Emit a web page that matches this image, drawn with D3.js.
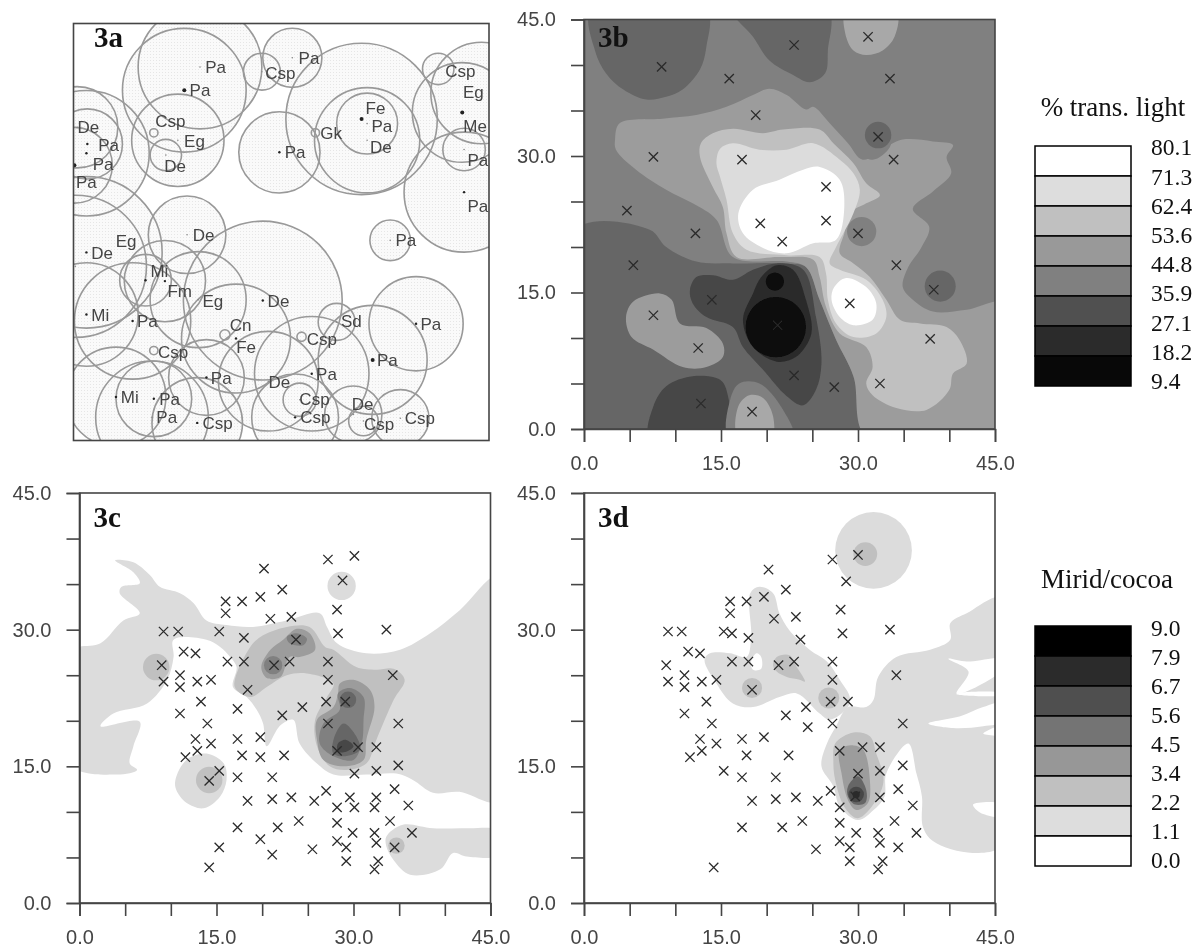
<!DOCTYPE html>
<html><head><meta charset="utf-8">
<script src="https://cdn.jsdelivr.net/npm/d3@7"></script>
<style>html,body{margin:0;padding:0;background:#fff}svg{display:block}</style>
</head><body><svg id="c" width="1202" height="949"></svg>
<script>
// ---------- data (plot units 0-45) ----------
const axisTicks=[0,5,10,15,20,25,30,35,40,45];
const labelledTicks=[0,15,30,45];
const lightLabels=["80.1","71.3","62.4","53.6","44.8","35.9","27.1","18.2","9.4"];
const miridLabels=["9.0","7.9","6.7","5.6","4.5","3.4","2.2","1.1","0.0"];
const lightRamp=["#ffffff","#dddddd","#c0c0c0","#999999","#808080","#505050","#2b2b2b","#080808"];
const miridRamp=["#000000","#2b2b2b","#4f4f4f","#747474","#979797","#c0c0c0","#dddddd","#ffffff"];
// name, x, y, crown radius, label x, label y, dot radius class
const trees=[
["Pa",13.7,40.3,6.7,15.4,40.3,0],["Pa",12.0,37.8,6.7,13.7,37.8,2],["Csp",8.7,33.2,.45,10.5,34.5,3],["Eg",11.3,32.4,5.0,13.1,32.3,0],
["De",10.0,30.8,1.7,11.0,29.6,0],["Csp",20.4,39.8,2.0,22.4,39.7,0],["Pa",23.7,41.3,3.2,25.5,41.3,0],["Fe",31.2,34.7,8.2,32.7,35.9,2],
["Gk",26.2,33.2,.45,27.9,33.2,3],["Pa",31.8,34.2,3.3,33.4,34.0,0],["De",31.8,32.4,5.7,33.3,31.7,0],["Pa",22.3,31.1,4.4,24.0,31.2,1],
["Csp",39.5,40.1,1.7,41.9,39.9,0],["Eg",44.2,37.5,5.5,43.3,37.6,0],["Me",42.1,35.4,5.4,43.5,33.9,2],["Pa",42.3,31.4,2.3,43.8,30.3,0],
["Pa",42.3,26.8,6.5,43.8,25.3,1],["Pa",34.3,21.6,2.2,36.0,21.6,0],["De",.4,33.8,4.4,1.6,33.8,0],["Pa",1.5,32.0,3.8,3.8,31.9,1],
["Pa",1.4,31.0,6.8,3.2,29.9,1],["Pa",.1,29.7,4.1,1.4,27.95,2],["De",1.4,20.3,8.2,3.1,20.3,1],["Eg",.2,18.8,7.7,5.7,21.5,0],
["Mi",1.4,13.6,5.6,2.9,13.6,1],["De",12.3,22.2,4.2,14.1,22.2,0],["Mi",7.8,17.3,2.8,9.3,18.3,1],["Fm",9.9,17.2,4.4,11.5,16.1,1],
["Eg",13.5,15.2,5.2,15.1,15.1,0],["De",20.5,15.1,8.6,22.2,15.1,1],["Pa",6.4,12.9,6.3,8.0,12.9,1],["Csp",8.7,9.7,.45,10.8,9.6,3],
["Mi",4.6,4.7,5.4,6.1,4.7,1],["Pa",8.7,4.5,4.1,10.4,4.5,1],["Pa",8.5,2.5,6.1,10.1,2.5,0],["Csp",13.4,1.9,4.9,15.6,1.9,1],
["Pa",14.4,6.8,4.1,16.0,6.8,1],["Cn",16.4,11.4,.55,18.1,12.5,3],["Fe",17.6,11.0,5.9,18.7,10.1,1],["Csp",24.7,11.2,.5,26.9,11.0,3],
["Pa",25.8,7.2,6.2,27.4,7.2,1],["De",21.1,6.4,5.4,22.3,6.3,0],["Csp",24.5,4.4,1.8,26.1,4.5,0],["Csp",24.0,2.5,4.7,26.2,2.5,1],
["Pa",32.4,8.7,5.9,34.0,8.7,2],["Pa",37.1,12.6,5.1,38.7,12.6,1],["Sd",28.5,12.8,2.0,30.1,12.9,0],["De",30.3,2.8,3.1,31.3,3.9,0],
["Csp",31.4,2.1,1.6,33.1,1.8,0],["Csp",35.4,2.4,3.1,37.5,2.4,0]];

const samplesB=[[8.5,39.8],[15.9,38.5],[23.0,42.2],[31.1,43.1],[33.5,38.5],[18.8,34.5],[32.2,32.1],[7.6,29.9],[17.3,29.6],[33.9,29.6],[26.5,26.6],[4.7,24.0],[19.3,22.6],[26.5,22.9],[21.7,20.6],[12.2,21.5],[30.0,21.5],[5.4,18.0],[34.2,18.0],[38.3,15.3],[14.0,14.2],[29.1,13.8],[7.6,12.5],[12.5,8.9],[37.9,9.9],[23.0,5.9],[27.4,4.6],[32.4,5.0],[12.8,2.8],[18.4,1.9],[21.2,11.4]];
const samplesC=[[30.1,38.1],[27.2,37.7],[20.2,36.7],[28.8,35.4],[22.2,34.4],[19.8,33.6],[16.0,33.1],[17.8,33.1],[16.0,31.8],[28.2,32.2],[20.9,31.2],[23.2,31.4],[9.2,29.8],[10.8,29.8],[15.3,29.8],[33.6,30.0],[28.3,29.6],[18.0,29.1],[23.7,28.9],[11.4,27.6],[12.7,27.4],[16.2,26.5],[18.0,26.5],[23.0,26.5],[27.2,26.5],[21.3,26.1],[9.0,26.1],[11.0,25.0],[34.3,25.0],[9.2,24.3],[12.9,24.3],[14.4,24.5],[27.2,24.5],[11.0,23.7],[18.4,23.4],[13.3,22.1],[27.0,22.1],[29.1,22.1],[17.3,21.3],[24.4,21.5],[11.0,20.8],[22.2,20.6],[14.0,19.7],[27.2,19.7],[34.9,19.7],[12.7,18.0],[17.3,18.0],[19.8,18.2],[14.4,17.5],[30.5,17.1],[32.5,17.1],[12.9,16.7],[28.2,16.7],[11.6,16.0],[17.8,16.2],[19.8,16.0],[22.4,16.2],[34.9,15.1],[15.3,14.5],[30.1,14.2],[32.5,14.5],[17.3,13.8],[21.1,13.8],[14.2,13.4],[34.5,12.5],[27.0,12.3],[23.2,11.6],[29.6,11.6],[32.5,11.6],[18.4,11.2],[21.1,11.4],[25.7,11.2],[28.2,10.5],[30.1,10.5],[32.3,10.5],[36.0,10.7],[24.0,9.0],[28.2,8.8],[34.0,9.0],[17.3,8.3],[21.7,8.3],[29.9,7.7],[32.3,7.7],[36.4,7.7],[19.8,7.0],[28.2,6.8],[32.5,6.6],[15.3,6.1],[29.2,6.1],[34.5,6.1],[25.5,5.9],[21.1,5.3],[29.2,4.6],[32.7,4.6],[14.2,3.9],[32.3,3.7]];
const samplesD=[[20.2,36.6],[30.0,38.2],[27.2,37.7],[28.7,35.3],[22.1,34.4],[19.7,33.6],[16.0,33.1],[17.8,33.1],[16.0,31.8],[28.1,32.2],[20.8,31.2],[23.2,31.4],[9.2,29.8],[10.7,29.8],[15.3,29.8],[16.2,29.6],[33.5,30.0],[28.3,29.6],[18.0,29.1],[23.7,28.9],[11.4,27.6],[12.7,27.4],[16.2,26.5],[18.0,26.5],[23.0,26.5],[27.2,26.5],[21.3,26.1],[9.0,26.1],[11.0,25.0],[34.2,25.0],[9.2,24.3],[12.9,24.3],[14.5,24.5],[27.2,24.5],[11.0,23.7],[18.4,23.4],[13.4,22.1],[27.0,22.1],[28.9,22.1],[24.3,21.5],[11.0,20.8],[22.1,20.6],[14.0,19.7],[27.2,19.7],[34.9,19.7],[24.5,19.3],[12.7,18.0],[17.3,18.0],[19.7,18.2],[14.5,17.5],[30.5,17.1],[32.4,17.1],[12.9,16.7],[28.0,16.7],[11.6,16.0],[17.8,16.2],[22.4,16.2],[34.9,15.1],[15.3,14.5],[30.0,14.2],[32.4,14.5],[17.3,13.8],[21.0,13.8],[34.4,12.5],[27.0,12.3],[23.2,11.6],[29.7,11.7],[32.4,11.6],[18.4,11.2],[21.0,11.4],[25.6,11.2],[28.0,10.5],[36.0,10.7],[23.9,9.0],[28.0,8.8],[34.0,9.0],[17.3,8.3],[21.7,8.3],[29.8,7.7],[32.2,7.7],[36.4,7.7],[28.0,6.8],[32.4,6.6],[29.1,6.1],[34.4,6.1],[25.4,5.9],[29.1,4.6],[32.7,4.6],[14.2,3.9],[32.2,3.7]];

// contour outlines in plot units; drawn back to front
const bWhole=[[-2,-2],[47,-2],[47,47],[-2,47]];
const bLowerLeft=[[-1,21.9],[7.2,21.9],[9.0,20.0],[12.3,18.4],[16.3,18.2],[22.2,18.2],[24.3,17.8],[25.8,14.2],[27.6,9.8],[29.5,5.8],[30.2,2.1],[30.9,-1],[-1,-1]];
const bTopLeft=[[.8,46],[13.4,46],[13.4,42.0],[12.7,39.5],[10.8,37.3],[9.0,36.5],[6.8,36.2],[4.3,37.3],[2.4,39.1],[1.2,41.6]];
const bTopMid=[[16.3,46],[26.7,46],[26.7,41.6],[26.4,39.1],[24.7,38.1],[22.9,38.9],[20.3,40.5],[18.5,43.1]];
const bTopRight=[[28.7,46],[34.2,46],[34.0,43.1],[32.7,41.6],[30.9,41.1],[29.5,41.6],[28.6,43.5]];
const bMid=[[3.4,31.8],[3.9,33.6],[8.6,34.1],[12.3,34.5],[15.6,35.4],[18.5,36.7],[20.3,37.4],[22.2,36.7],[24.3,35.1],[25.1,35.4],[26.9,33.6],[28.9,31.4],[30.5,29.6],[33.1,31.0],[34.9,31.8],[38.2,31.6],[40.4,31.2],[39.7,29.9],[40.2,28.1],[38.2,26.1],[36.0,24.2],[37.8,22.2],[36.9,19.9],[35.5,17.8],[34.9,15.6],[36.0,14.2],[38.2,12.9],[41.9,13.1],[46,13.8],[46,-1],[31,-1],[29.5,5.8],[27.6,9.8],[25.8,14.2],[24.3,17.8],[22.2,18.4],[16.3,18.9],[14.5,23.0],[11.9,24.8],[9.0,26.3],[5.7,28.5],[3.5,30.7]];
const bPale=[[12.7,29.9],[12.8,31.4],[14.1,32.5],[16.3,33.0],[19.6,32.5],[21.8,32.9],[25.8,32.9],[27.3,31.4],[29.5,29.2],[30.9,27.0],[32.4,25.7],[30.9,24.8],[29.1,23.7],[28.5,21.5],[28.0,19.3],[29.5,18.2],[31.3,16.7],[33.1,14.2],[34.6,12.0],[36.8,11.6],[39.7,11.2],[41.1,9.8],[41.9,7.2],[40.4,6.1],[40.0,4.3],[37.5,2.1],[34.2,2.3],[31.6,3.7],[30.9,5.0],[31.6,6.8],[30.9,9.0],[28.0,10.5],[26.5,13.4],[25.8,16.7],[25.1,18.6],[21.4,18.9],[16.7,18.9],[15.6,21.5],[15.2,24.4],[14.1,26.6]];
const bPaler=[[14.5,29.2],[14.9,30.8],[16.3,31.4],[19.2,30.7],[22.2,30.7],[25.1,31.4],[28.0,29.6],[29.5,28.1],[30.2,26.3],[29.5,23.7],[28.4,21.5],[27.6,20.0],[26.9,18.2],[28.0,17.5],[30.9,16.4],[32.7,14.2],[33.1,12.3],[32.0,10.5],[29.5,10.1],[27.6,11.6],[26.7,14.2],[26.5,17.1],[25.8,18.9],[22.2,19.1],[17.8,19.7],[16.3,21.5],[15.6,25.2],[14.9,27.7]];
const bWhiteA=[[16.9,23.7],[18.5,26.3],[21.4,27.4],[24.0,28.5],[25.8,28.8],[28.0,27.4],[28.5,24.4],[27.6,20.8],[25.1,20.4],[22.2,19.3],[19.6,19.9],[17.4,21.5]];
const bWhiteB=[[27.4,15.6],[28.7,16.6],[30.9,15.6],[32.0,13.8],[31.6,12.0],[29.5,11.4],[28.0,12.3],[27.1,14.2]];
const bDarkBand=[[11.6,15.3],[12.3,16.7],[14.1,16.9],[16.3,16.4],[18.5,17.5],[21.1,18.2],[24.0,17.5],[25.4,12.3],[26.0,7.2],[25.4,4.3],[24.0,2.6],[22.2,3.6],[19.6,6.5],[17.4,9.0],[16.3,11.2],[13.4,12.3],[11.9,13.8]];
const bDarker=[[19.4,16.7],[21.1,18.0],[22.9,17.5],[24.3,14.2],[24.9,10.5],[23.2,7.9],[21.1,7.4],[18.5,9.0],[17.4,12.0],[18.5,14.9]];
const bBottomLeft=[[7.2,-1],[7.6,2.5],[9.0,4.7],[11.9,5.8],[14.9,5.4],[15.7,3.9],[15.6,-1]];
const bBottomMid=[[15.9,-1],[16.0,3.2],[17.0,5.0],[19.2,5.0],[21.8,2.1],[22.9,-1]];
const bBottomMidInner=[[16.9,-1],[16.9,2.5],[18.1,3.7],[19.6,3.4],[20.7,1.4],[20.5,-1]];
const bLeftBlob=[[4.6,12.3],[5.4,14.0],[8.3,14.9],[9.6,14.2],[10.5,11.6],[13.4,11.1],[15.2,9.4],[15.2,7.9],[13.4,6.8],[10.8,6.8],[7.6,8.7],[5.2,10.1]];
const bTear=[[30.7,32.7],[32.2,34.2],[33.6,32.9],[33.5,31.0],[31.6,29.6],[29.5,31.0]];

const cMain=[[-1,27.6],[2.3,28.5],[4.8,31.0],[6.6,31.8],[4.4,34.0],[4.6,34.7],[6.6,35.1],[5.9,36.3],[3.9,37.6],[5.9,37.4],[7.7,36.0],[8.8,34.7],[11.0,34.0],[12.5,32.9],[13.9,31.0],[16.1,30.5],[19.0,30.3],[22.7,31.0],[26.3,31.8],[27.1,30.3],[28.2,28.5],[31.4,27.4],[35.1,27.8],[38.4,29.6],[41.6,32.1],[46,36],[46,11.2],[41.6,12.2],[38.7,12.1],[36.5,13.5],[34.7,14.2],[31.4,14.1],[27.8,14.1],[26.0,15.3],[24.1,17.5],[23.4,20.1],[22.0,19.5],[20.5,17.2],[20.1,19.7],[19.4,21.2],[18.3,22.6],[16.8,23.7],[17.2,25.9],[16.5,27.0],[15.4,28.1],[13.9,28.9],[10.3,28.9],[10.3,27.0],[9.6,24.5],[7.4,21.9],[3.7,20.8],[2.3,19.4],[6.6,19.9],[5.9,17.2],[5.5,15.3],[6.3,14.6],[4.1,14.1],[-1,15.2]];
const cIsland=[[10.5,13.5],[11.7,15.7],[13.9,16.4],[15.8,15.3],[16.1,13.5],[15.4,11.7],[13.6,10.4],[11.7,11.0],[10.6,12.4]];
const cSouth=[[33.6,7.3],[35.4,8.6],[38.7,8.2],[42.4,8.2],[46,7.9],[46,5.3],[42.4,5.1],[40.9,5.5],[39.5,3.7],[36.2,3.1],[34.4,4.7],[33.6,6.2]];
const cBand=[[17.0,23.7],[18.5,27.8],[19.8,29.2],[22.7,30.3],[25.2,30.3],[26.9,28.1],[27.8,27.8],[30.3,25.9],[32.5,25.6],[34.4,25.7],[35.6,24.5],[34.4,22.3],[32.5,17.9],[31.4,15.3],[29.2,14.6],[27.4,15.0],[26.0,17.2],[25.8,20.1],[27.1,22.6],[27.8,24.1],[24.9,25.2],[22.7,25.0],[20.5,23.7],[18.7,22.6]];
const cUpper=[[19.9,25.9],[20.9,27.8],[22.3,28.9],[23.8,30.1],[25.2,29.6],[25.8,27.8],[24.1,27.0],[23.0,27.0],[22.0,24.8],[20.5,24.7]];
const cUpperCore=[[22.7,29.2],[23.8,29.6],[24.9,29.0],[24.5,28.3],[23.0,28.5]];
const cRight=[[28.3,23.0],[28.5,24.1],[30.0,24.5],[31.8,23.4],[32.3,21.5],[31.4,17.9],[31.1,15.7],[28.9,15.0],[26.7,15.7],[26.0,17.9],[26.0,20.1],[27.8,21.5]];
const cRightInner=[[28.3,23.0],[29.6,23.6],[31.1,22.6],[31.1,20.1],[30.9,17.5],[30.0,15.7],[27.8,16.1],[26.3,17.5],[26.7,19.7],[28.5,21.2]];
const cRightDark=[[27.8,17.9],[28.9,19.7],[30.3,18.3],[30.7,16.8],[28.9,16.1],[27.8,16.4]];
const cRightCore=[[28.3,17.5],[29.2,17.9],[30.0,17.2],[29.2,16.6],[28.3,16.6]];

const dCentre=[[13.2,26.7],[13.8,27.4],[16.0,27.4],[17.8,27.0],[18.3,29.2],[18.2,34.0],[19.2,34.7],[20.7,34.0],[21.4,31.8],[22.5,29.9],[24.7,27.8],[26.6,26.5],[28.0,24.5],[29.1,22.6],[28.9,21.5],[26.9,20.1],[25.8,20.8],[23.3,23.0],[21.4,22.6],[18.5,21.5],[16.3,21.9],[14.5,24.1]];
const dHole=[[18.3,26.5],[18.9,27.4],[19.4,27.0],[19.4,25.7],[18.5,25.6]];
const dRight=[[28.9,21.5],[30.9,21.5],[31.7,22.3],[32.2,24.8],[34.2,27.0],[37.9,27.8],[40.1,28.9],[40.1,30.7],[41.9,31.8],[46,33.5],[46,6.6],[42.6,5.5],[38.2,6.8],[37.1,8.4],[37.0,11.7],[36.4,14.2],[35.5,17.5],[33.1,14.2],[32.9,11.7],[31.7,10.2],[30.0,9.1],[28.0,10.6],[27.3,12.8],[26.0,15.0],[26.6,17.5],[27.6,19.4]];
const dGapA=[[39.9,26.8],[41.9,26.5],[46,26.8],[46,25.8],[42.3,23.4],[40.8,23.0],[42.1,25.4]];
const dGapB=[[40.8,23.0],[46,23.05],[46,22.85],[40.8,22.9]];
const dGapC=[[37.7,19.7],[41.2,20.5],[43.7,21.5],[46,22],[46,20],[43.7,19.4],[40.4,19.2]];
const dGapD=[[43.7,18.6],[46,19.5],[46,18.5]];
const dGapE=[[42.6,10.8],[46,10.8],[46,9.5],[43.4,9.9]];
const dInner=[[20.7,26.1],[21.1,27.0],[22.5,27.2],[23.3,25.9],[24.2,24.3],[23.6,24.5],[22.2,24.8],[21.1,25.4]];
const dLower=[[27.5,17.5],[29.5,18.7],[31.3,18.3],[32.0,16.4],[32.8,13.5],[32.0,11.3],[30.0,9.3],[28.6,10.4],[27.5,13.5],[27.3,15.7]];
const dLowerMid=[[28.0,16.8],[29.5,17.3],[30.6,16.8],[31.3,13.5],[31.1,11.0],[29.8,10.2],[28.9,11.3],[28.2,14.2]];
const dLowerDark=[[28.9,12.8],[30.0,13.9],[30.9,12.4],[30.8,11.0],[29.7,10.8],[28.9,11.7]];

// each layer: outline (array of vertices) or disc {x,y,r}, and its shade
const layersB=[[bWhole,"k4"],[bLowerLeft,"k5"],[bTopLeft,"k5"],[bTopMid,"k5"],[bTopRight,"k2b"],[bMid,"k3"],[bTear,"k4"],{x:32.2,y:32.3,r:1.45,s:"k5"},{x:39.0,y:15.7,r:1.7,s:"k5"},{x:30.4,y:21.7,r:1.6,s:"k4"},[bPale,"k2"],[bPaler,"k1"],[bWhiteA,"k0"],[bWhiteB,"k0"],[bBottomLeft,"k6"],[bBottomMid,"k4"],[bBottomMidInner,"k2b"],[bLeftBlob,"k3"],[bDarkBand,"k6"],[bDarker,"k7"],{x:21.0,y:11.2,r:3.3,s:"k8"},{x:20.9,y:16.2,r:1.0,s:"k8"}];
const layersC=[[cMain,"k1"],{x:28.7,y:34.8,r:1.55,s:"k1"},[cIsland,"k1"],[cSouth,"k1"],{x:14.2,y:13.5,r:1.45,s:"k2"},{x:8.4,y:25.9,r:1.45,s:"k2"},{x:34.7,y:6.3,r:.9,s:"k2"},[cBand,"k2"],[cUpper,"k3"],[cUpperCore,"k4"],{x:21.2,y:26.1,r:1.0,s:"k4"},[cRight,"k3"],[cRightInner,"k4"],{x:29.4,y:22.3,r:.9,s:"k5"},[cRightDark,"k5"],[cRightCore,"k6"]];
const layersD=[{x:31.7,y:38.7,r:4.2,s:"k1"},{x:30.8,y:38.3,r:1.3,s:"k2"},[dCentre,"k1"],[dHole,"k0"],[dRight,"k1"],[dGapA,"k0"],[dGapB,"k0"],[dGapC,"k0"],[dGapD,"k0"],[dGapE,"k0"],[dInner,"k2"],{x:18.4,y:23.6,r:1.1,s:"k2"},{x:26.8,y:22.5,r:1.15,s:"k2"},[dLower,"k2"],[dLowerMid,"k3"],[dLowerDark,"k5"],{x:29.8,y:11.9,r:.85,s:"k6"},{x:29.8,y:11.9,r:.4,s:"k7"}];
const shades={k0:"#ffffff",k1:"#dcdcdc",k2:"#c0c0c0",k2b:"#a8a8a8",k3:"#9c9c9c",k4:"#808080",k5:"#666666",k6:"#474747",k7:"#2b2b2b",k8:"#0a0a0a"};

// ---------- drawing ----------
const svg=d3.select("#c");
const defs=svg.append("defs");
const blur=defs.append("filter").attr("id","soft").attr("x","-5%").attr("y","-5%").attr("width","110%").attr("height","110%");
blur.append("feGaussianBlur").attr("stdDeviation",0.55);
const stip=defs.append("pattern").attr("id","stipple").attr("patternUnits","userSpaceOnUse").attr("width",3).attr("height",3);
stip.append("rect").attr("width",3).attr("height",3).attr("fill","#fafafa");
stip.append("rect").attr("width",1).attr("height",1).attr("fill","#e6e6e6");

function panel(id,x0,x1,y0,y1,layers,samples,title,titleY){
  const x=d3.scaleLinear().domain([0,45]).range([x0,x1]);
  const y=d3.scaleLinear().domain([0,45]).range([y1,y0]);
  defs.append("clipPath").attr("id","clip"+id).append("rect").attr("x",x0).attr("y",y0).attr("width",x1-x0).attr("height",y1-y0);
  const g=svg.append("g").attr("filter","url(#soft)");
  const maps=g.append("g").attr("clip-path","url(#clip"+id+")");
  const line=d3.line().x(d=>x(d[0])).y(d=>y(d[1])).curve(d3.curveCatmullRomClosed.alpha(0.5));
  layers.forEach(l=>{
    if(Array.isArray(l)) maps.append("path").attr("d",line(l[0])).attr("fill",shades[l[1]]);
    else maps.append("circle").attr("cx",x(l.x)).attr("cy",y(l.y)).attr("r",x(l.r)-x(0)).attr("fill",shades[l.s]);
  });
  const sym=d3.symbol().type(d3.symbolX).size(58);
  g.append("g").selectAll("path").data(samples).join("path").attr("d",sym)
    .attr("transform",d=>`translate(${x(d[0])},${y(d[1])})`).attr("fill","none").attr("stroke","#2a2a2a").attr("stroke-width",1.3);
  g.append("rect").attr("x",x0).attr("y",y0).attr("width",x1-x0).attr("height",y1-y0).attr("fill","none").attr("stroke","#444").attr("stroke-width",1.6);
  const fmt=d=>labelledTicks.includes(d)?d.toFixed(1):"";
  const ax=g.append("g").attr("transform",`translate(0,${y1})`).call(d3.axisBottom(x).tickValues(axisTicks).tickSize(13).tickPadding(14).tickFormat(fmt));
  const ay=g.append("g").attr("transform",`translate(${x0},0)`).call(d3.axisLeft(y).tickValues(axisTicks).tickSize(13).tickPadding(15).tickFormat(fmt));
  [ax,ay].forEach(a=>{a.select(".domain").attr("stroke","#444").attr("stroke-width",1.6);
    a.selectAll("line").attr("stroke","#444").attr("stroke-width",1.6);
    a.selectAll("text").attr("font-family","Liberation Sans").attr("font-size",20).attr("fill","#444");});
  svg.append("text").text(title).attr("x",x0+14).attr("y",titleY).attr("font-family","Liberation Serif").attr("font-weight","bold").attr("font-size",29).attr("fill","#111");
}
panel("b",584,995,19.5,429,layersB,samplesB,"3b",46.5);
panel("c",79.5,490.5,493,903,layersC,samplesC,"3c",526.5);
panel("d",584,995,493,903,layersD,samplesD,"3d",526.5);

// panel a : tree crowns
(function(){
  const x0=73.5,x1=489,y0=23.5,y1=440.5;
  const x=d3.scaleLinear().domain([0,45]).range([x0,x1]);
  const y=d3.scaleLinear().domain([0,45]).range([y1,y0]);
  defs.append("clipPath").attr("id","clipa").append("rect").attr("x",x0).attr("y",y0).attr("width",x1-x0).attr("height",y1-y0);
  const g=svg.append("g").attr("filter","url(#soft)");
  const m=g.append("g").attr("clip-path","url(#clipa)");
  const rr=d=>x(d[3])-x(0);
  m.append("g").selectAll("circle").data(trees).join("circle").attr("cx",d=>x(d[1])).attr("cy",d=>y(d[2])).attr("r",rr).attr("fill","url(#stipple)");
  m.append("g").selectAll("circle").data(trees).join("circle").attr("cx",d=>x(d[1])).attr("cy",d=>y(d[2])).attr("r",rr).attr("fill","none").attr("stroke","#999").attr("stroke-width",1.6);
  const dotR=[0.8,1.2,2.0,0];
  m.append("g").selectAll("circle").data(trees.filter(d=>d[6]<3)).join("circle").attr("cx",d=>x(d[1])).attr("cy",d=>y(d[2])).attr("r",d=>dotR[d[6]]).attr("fill",d=>d[6]?"#222":"#888");
  m.append("g").selectAll("text").data(trees).join("text").text(d=>d[0]).attr("x",d=>x(d[4])).attr("y",d=>y(d[5])).attr("dy","0.36em").attr("text-anchor","middle").attr("font-family","Liberation Sans").attr("font-size",17).attr("fill","#444");
  g.append("rect").attr("x",x0).attr("y",y0).attr("width",x1-x0).attr("height",y1-y0).attr("fill","none").attr("stroke","#444").attr("stroke-width",1.6);
  svg.append("text").text("3a").attr("x",94).attr("y",46.5).attr("font-family","Liberation Serif").attr("font-weight","bold").attr("font-size",29).attr("fill","#111");
})();

// legends
function legend(title,tx,ty,top,labelTop,labelStep,ramp,labels){
  const pos=d3.scaleLinear().domain([0,ramp.length]).range([top,top+240]);
  const g=svg.append("g");
  g.append("text").text(title).attr("x",tx).attr("y",ty).attr("text-anchor","middle").attr("font-family","Liberation Serif").attr("font-size",27).attr("fill","#111");
  g.selectAll("rect").data(ramp).join("rect").attr("x",1035).attr("y",(d,i)=>pos(i)).attr("width",96).attr("height",30).attr("fill",d=>d).attr("stroke","#000").attr("stroke-width",1.5);
  const lab=d3.scaleLinear().domain([0,labels.length-1]).range([labelTop,labelTop+labelStep*(labels.length-1)]);
  g.selectAll("text.l").data(labels).join("text").attr("class","l").text(d=>d).attr("x",1151).attr("y",(d,i)=>lab(i)).attr("dy","0.33em").attr("font-family","Liberation Serif").attr("font-size",23.5).attr("fill","#111");
}
legend("% trans. light",1113,116,146,147.7,29.2,lightRamp,lightLabels);
legend("Mirid/cocoa",1107,588,626,628,29,miridRamp,miridLabels);
</script></body></html>
